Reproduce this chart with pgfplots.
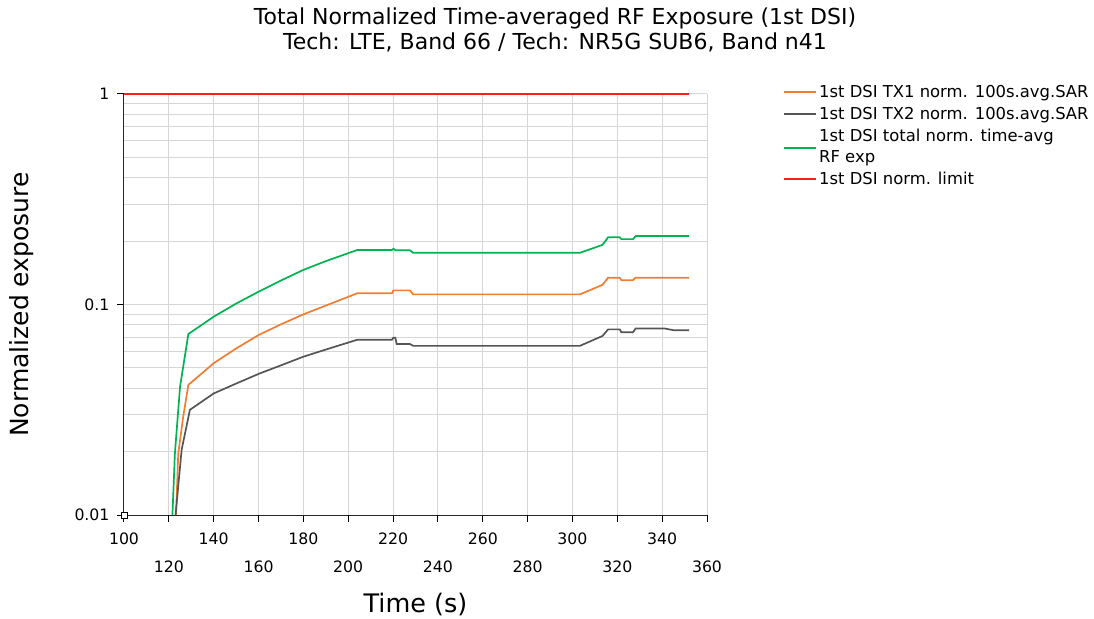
\documentclass[border=0pt]{standalone}
\usepackage{fontspec}
\setmainfont{DejaVu Sans}
\usepackage{pgfplots}
\pgfplotsset{compat=1.18}

\definecolor{txone}{RGB}{240,125,50}
\definecolor{txtwo}{RGB}{85,85,85}
\definecolor{total}{RGB}{0,178,80}
\definecolor{limit}{RGB}{255,30,30}
\definecolor{gridgray}{RGB}{215,215,215}

\begin{document}
\begin{tikzpicture}
\begin{axis}[
    name=ax, at={(0,0)}, anchor=south west,
    scale only axis, width=583pt, height=421pt,
    ymode=log,
    xmin=100, xmax=360, ymin=0.01, ymax=1,
    axis x line=bottom, axis y line=left,
    axis line style={-, line width=1pt, black!85},
    xtick={100,140,...,340},
    extra x ticks={120,160,...,360},
    extra x tick style={grid=major, tick label style={yshift=-28pt}},
    ytick={0.01,0.1,1}, yticklabels={0.01,0.1,1},
    xmajorgrids=true, ymajorgrids=true, yminorgrids=true,
    grid style={gridgray, line width=1pt},
    minor grid style={gridgray, line width=1pt},
    tick align=outside, major tick length=7pt, minor tick length=0pt,
    tick style={black, line width=1pt},
    /pgf/number format/assume math mode=true,
    tick label style={font=\fontsize{15.7}{18}\selectfont},
    xticklabel style={yshift=-7pt},
    yticklabel style={xshift=-4pt},
    xlabel={Time (s)}, ylabel={Normalized exposure},
    every axis x label/.style={at={(axis description cs:0.5,0)}, yshift=-89pt, anchor=center,
        font=\fontsize{25.5}{30}\selectfont},
    every axis y label/.style={at={(axis description cs:0,0.5)}, xshift=-102pt, rotate=90, anchor=center,
        font=\fontsize{25}{30}\selectfont},
    legend style={at={(rel axis cs:1,1)}, anchor=north west, xshift=73pt, yshift=13pt,
        draw=none, fill=none, row sep=4pt, font=\fontsize{16.4}{21.5}\selectfont,
        nodes={inner sep=2pt}},
    legend cell align=left,
    legend image code/.code={\draw[#1, line width=2pt] (0pt,0pt) -- (32pt,0pt);},
]

\addplot[txone, line width=1.7pt] coordinates {
(123.2,0.01) (124.2,0.0196) (126.4,0.0293) (128.7,0.0415) (140,0.0526)
(150,0.0618) (160,0.0716) (170,0.0805) (180,0.0898) (190,0.0988)
(204,0.113) (219.5,0.113) (220.1,0.1167) (227.5,0.1167) (229,0.1117)
(303.3,0.1117) (313.4,0.124) (315.9,0.134) (321.1,0.134) (321.8,0.1305)
(327,0.1305) (328,0.134) (352,0.134)
};
\addlegendentry{1st DSI TX1 norm. 100s.avg.SAR}

\addplot[txtwo, line width=1.7pt] coordinates {
(123.0,0.01) (125.7,0.0204) (129.4,0.0316) (140,0.0378) (150,0.0421)
(160,0.0468) (170,0.0514) (180,0.0565) (190,0.0611) (204,0.068)
(219.5,0.068) (220.1,0.0695) (221,0.0695) (221.6,0.0649) (227.5,0.0649)
(229,0.0636) (303.3,0.0636) (313.4,0.0709) (315.9,0.0762) (321.1,0.0762)
(321.8,0.0738) (327,0.0738) (328.2,0.077) (341,0.077) (345,0.0755) (352,0.0755)
};
\addlegendentry{1st DSI TX2 norm. 100s.avg.SAR}

\addplot[total, line width=1.7pt, legend image post style={yshift=-2pt}] coordinates {
(121.6,0.01) (122.7,0.0196) (125,0.0407) (128.7,0.0724) (140,0.0875)
(150,0.101) (160,0.115) (170,0.130) (180,0.146) (190,0.1607)
(204,0.1815) (219.5,0.1815) (220.2,0.184) (221,0.181) (227.5,0.181)
(229,0.176) (303.3,0.176) (313.4,0.192) (315.9,0.2085) (321.1,0.2085)
(321.8,0.2045) (327,0.2045) (328.2,0.2114) (352,0.2114)
};
\addlegendentry[align=left]{1st DSI total norm. time-avg\\RF exp}

\addplot[limit, line width=1.8pt] coordinates {(100,1) (352,1)};
\addlegendentry{1st DSI norm. limit}

\addplot[only marks, mark=square*, mark size=3pt, mark options={fill=white, draw=black, line width=0.8pt},
    forget plot, clip=false] coordinates {(100,0.01)};
\end{axis}

\node[font=\fontsize{22}{25}\selectfont] at ([xshift=431pt, yshift=76pt]ax.north west)
    {Total Normalized Time-averaged RF Exposure (1st DSI)};
\node[font=\fontsize{22}{25}\selectfont] at ([xshift=431pt, yshift=52pt]ax.north west)
    {Tech: LTE, Band 66 / Tech: NR5G SUB6, Band n41};

\pgfresetboundingbox
\useasboundingbox ([xshift=-124pt, yshift=-104pt]ax.south west) rectangle ([xshift=387pt, yshift=94pt]ax.north east);
\end{tikzpicture}
\end{document}
